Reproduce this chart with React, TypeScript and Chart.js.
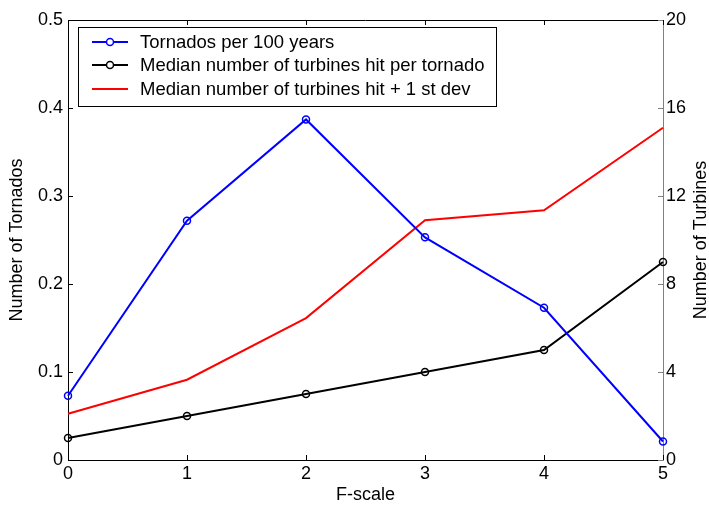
import React, { useEffect, useRef } from "react";
import { Chart, registerables } from "chart.js";

Chart.register(...registerables);

const categories = ["0", "1", "2", "3", "4", "5"];
const tornadosPer100 = [0.073, 0.272, 0.387, 0.253, 0.173, 0.021];
const medianTurbinesHit = [1, 2, 3, 4, 5, 9];
const medianPlusStdDev = [2.1, 3.65, 6.45, 10.9, 11.35, 15.1];
const seriesLabels = [
  "Tornados per 100 years",
  "Median number of turbines hit per tornado",
  "Median number of turbines hit + 1 st dev",
];
const rightAxisTitle = "Number of Turbines";

const FONT = "'Liberation Sans', Arial, sans-serif";

const boxPlugin = {
  id: "matlabBox",
  afterDraw(chart: any) {
    const ctx = chart.ctx;
    const { left, right, top, bottom } = chart.chartArea;
    const x = chart.scales.x;
    const yl = chart.scales.y;
    const yr = chart.scales.y1;
    ctx.save();
    ctx.lineWidth = 1;
    ctx.strokeStyle = "#000";
    ctx.beginPath();
    ctx.moveTo(left, top + 0.5);
    ctx.lineTo(right, top + 0.5);
    ctx.stroke();
    const L = 5;
    x.ticks.forEach((_t: any, i: number) => {
      const px = Math.round(x.getPixelForTick(i)) + 0.5;
      ctx.beginPath();
      ctx.moveTo(px, bottom);
      ctx.lineTo(px, bottom - L);
      ctx.moveTo(px, top);
      ctx.lineTo(px, top + L);
      ctx.stroke();
    });
    yl.ticks.forEach((_t: any, i: number) => {
      const py = Math.round(yl.getPixelForTick(i)) + 0.5;
      ctx.beginPath();
      ctx.moveTo(left, py);
      ctx.lineTo(left + L, py);
      ctx.stroke();
    });
    ctx.strokeStyle = "#808080";
    yr.ticks.forEach((_t: any, i: number) => {
      const py = Math.round(yr.getPixelForTick(i)) + 0.5;
      ctx.beginPath();
      ctx.moveTo(right, py);
      ctx.lineTo(right - L, py);
      ctx.stroke();
    });

    // right axis title, reading bottom-to-top
    ctx.save();
    ctx.translate(701, (top + bottom) / 2);
    ctx.rotate(-Math.PI / 2);
    ctx.fillStyle = "#000";
    ctx.font = `18px ${FONT}`;
    ctx.textAlign = "center";
    ctx.textBaseline = "middle";
    ctx.fillText(rightAxisTitle, 0, 0);
    ctx.restore();

    // legend
    const bx = 78, by = 27, bw = 418, bh = 79;
    ctx.fillStyle = "#fff";
    ctx.fillRect(bx, by, bw, bh);
    ctx.strokeStyle = "#000";
    ctx.lineWidth = 1;
    ctx.strokeRect(bx + 0.5, by + 0.5, bw, bh);
    const rows = [42, 65, 89];
    chart.data.datasets.forEach((ds: any, i: number) => {
      const ry = rows[i];
      ctx.strokeStyle = ds.borderColor;
      ctx.lineWidth = 2;
      ctx.beginPath();
      ctx.moveTo(92, ry);
      ctx.lineTo(128, ry);
      ctx.stroke();
      if (ds.pointRadius > 0) {
        ctx.lineWidth = 1.5;
        ctx.beginPath();
        ctx.arc(110, ry, 3.5, 0, Math.PI * 2);
        ctx.fillStyle = "#fff";
        ctx.fill();
        ctx.stroke();
      }
      ctx.fillStyle = "#000";
      ctx.font = `18.5px ${FONT}`;
      ctx.textBaseline = "middle";
      ctx.textAlign = "left";
      ctx.fillText(ds.label, 140, ry + 1);
    });
    ctx.restore();
  },
};

export default function App() {
  const ref = useRef<HTMLCanvasElement>(null);
  useEffect(() => {
    document.body.style.margin = "0";
    const tickFont = { family: FONT, size: 18 };
    const titleFont = { family: FONT, size: 18, lineHeight: 1 };
    const chart = new Chart(ref.current!, {
      type: "line",
      data: {
        labels: categories,
        datasets: [
          {
            label: seriesLabels[0],
            data: tornadosPer100,
            yAxisID: "y",
            borderColor: "#0000ff",
            backgroundColor: "#0000ff",
            pointBorderColor: "#0000ff",
            pointBackgroundColor: "rgba(0,0,0,0)",
            borderWidth: 2,
            pointRadius: 3.5,
            pointBorderWidth: 1.5,
            tension: 0,
          },
          {
            label: seriesLabels[1],
            data: medianTurbinesHit,
            yAxisID: "y1",
            borderColor: "#000000",
            backgroundColor: "#000000",
            pointBorderColor: "#000000",
            pointBackgroundColor: "rgba(0,0,0,0)",
            borderWidth: 2,
            pointRadius: 3.5,
            pointBorderWidth: 1.5,
            tension: 0,
          },
          {
            label: seriesLabels[2],
            data: medianPlusStdDev,
            yAxisID: "y1",
            borderColor: "#ff0000",
            backgroundColor: "#ff0000",
            borderWidth: 2,
            pointRadius: 0,
            tension: 0,
          },
        ],
      },
      options: {
        responsive: false,
        animation: false,
        layout: { padding: { top: 20, left: 0, right: 0, bottom: 0 } },
        plugins: { legend: { display: false }, tooltip: { enabled: false } },
        scales: {
          x: {
            type: "category",
            offset: false,
            grid: { display: true, drawOnChartArea: false, drawTicks: false },
            border: { display: true, color: "#000", width: 1 },
            ticks: { color: "#000", font: tickFont, padding: 3, maxRotation: 0 },
            title: { display: true, text: "F-scale", color: "#000", font: titleFont, padding: { top: 0, bottom: 2 } },
            afterFit: (s: any) => { s.height = 46; },
          },
          y: {
            type: "linear",
            position: "left",
            min: 0,
            max: 0.5,
            grid: { display: true, drawOnChartArea: false, drawTicks: false },
            border: { display: true, color: "#000", width: 1 },
            ticks: { stepSize: 0.1, color: "#000", font: tickFont, padding: 5 },
            title: { display: true, text: "Number of Tornados", color: "#000", font: titleFont, padding: { top: 8, bottom: 0 } },
            afterFit: (s: any) => { s.width = 68; },
          },
          y1: {
            type: "linear",
            position: "right",
            min: 0,
            max: 20,
            grid: { display: true, drawOnChartArea: false, drawTicks: false },
            border: { display: true, color: "#808080", width: 1 },
            ticks: { stepSize: 4, color: "#000", font: tickFont, padding: 3 },
            title: { display: false },
            afterFit: (s: any) => { s.width = 46; },
          },
        },
      },
      plugins: [boxPlugin],
    });
    return () => chart.destroy();
  }, []);
  return (
    <div style={{ position: "absolute", left: 0, top: 0, width: 709, height: 506, background: "#fff" }}>
      <canvas ref={ref} width={709} height={506} />
    </div>
  );
}
